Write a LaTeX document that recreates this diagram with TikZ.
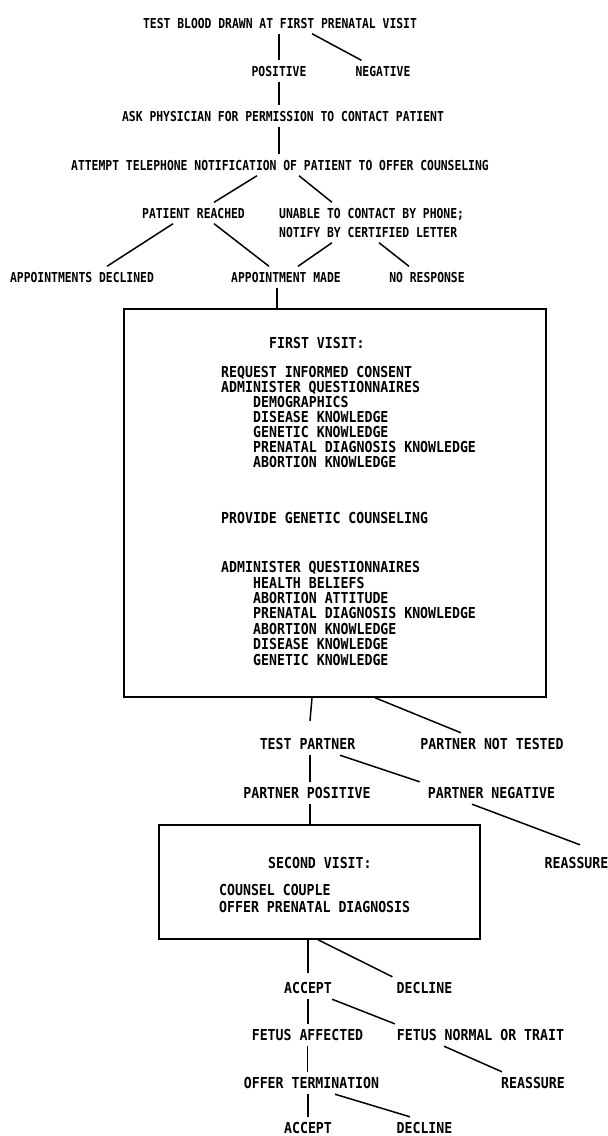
\documentclass[tikz,border=0pt]{standalone}
\usepackage{fontspec}
\usetikzlibrary{calc}
\newfontfamily\monofamA[FakeStretch=0.83]{DejaVu Sans Mono}
\newfontfamily\monofamB[FakeStretch=0.875]{DejaVu Sans Mono}
\newcommand{\ftopx}{\monofamA\bfseries\fontsize{13.7}{16}\selectfont}
\newcommand{\flowx}{\monofamB\bfseries\fontsize{15.1}{17}\selectfont}
\tikzset{
  toplbl/.style={font=\ftopx, inner xsep=0pt, inner ysep=5.5pt, text height=10pt, text depth=0pt},
  lowlbl/.style={font=\flowx, inner xsep=0pt, inner ysep=5.5pt, text height=11pt, text depth=0pt},
  intxt/.style={font=\flowx, inner sep=0pt, anchor=west, text height=11pt, text depth=0pt},
  link/.style={line width=1.5pt},
  boxst/.style={draw, line width=1.5pt, inner sep=0pt}
}
\begin{document}
\begin{tikzpicture}[x=1pt,y=-1pt]
\useasboundingbox (0,0) rectangle (608,1136);
% top part
\node[toplbl] (t1) at (280,23) {TEST BLOOD DRAWN AT FIRST PRENATAL VISIT};
\node[toplbl] (pos) at (279,71) {POSITIVE};
\node[toplbl] (neg) at (383,71) {NEGATIVE};
\node[toplbl] (ask) at (283,116) {ASK PHYSICIAN FOR PERMISSION TO CONTACT PATIENT};
\node[toplbl] (att) at (280,165) {ATTEMPT TELEPHONE NOTIFICATION OF PATIENT TO OFFER COUNSELING};
\node[toplbl] (reach) at (193.5,213) {PATIENT REACHED};
\node[toplbl, anchor=west] (un1) at (279,213) {UNABLE TO CONTACT BY PHONE;};
\node[toplbl, anchor=west] (un2) at (279,232) {NOTIFY BY CERTIFIED LETTER};
\node[toplbl] (decl) at (82,277) {APPOINTMENTS DECLINED};
\node[toplbl] (made) at (286,277) {APPOINTMENT MADE};
\node[toplbl] (nores) at (427,277) {NO RESPONSE};
% box 1
\node[boxst, minimum width=422pt, minimum height=388pt] (box1) at (335,503) {};
\node[intxt] (fv) at (269,343) {FIRST VISIT:};
\node[intxt] (b1) at (221,372) {REQUEST INFORMED CONSENT};
\node[intxt] (b2) at (221,387) {ADMINISTER QUESTIONNAIRES};
\node[intxt] (b3) at (253,402) {DEMOGRAPHICS};
\node[intxt] (b4) at (253,417) {DISEASE KNOWLEDGE};
\node[intxt] (b5) at (253,432) {GENETIC KNOWLEDGE};
\node[intxt] (b6) at (253,447) {PRENATAL DIAGNOSIS KNOWLEDGE};
\node[intxt] (b7) at (253,462) {ABORTION KNOWLEDGE};
\node[intxt] (b8) at (221,518) {PROVIDE GENETIC COUNSELING};
\node[intxt] (b9) at (221,567) {ADMINISTER QUESTIONNAIRES};
\node[intxt] (b10) at (253,583) {HEALTH BELIEFS};
\node[intxt] (b11) at (253,598) {ABORTION ATTITUDE};
\node[intxt] (b12) at (253,613) {PRENATAL DIAGNOSIS KNOWLEDGE};
\node[intxt] (b13) at (253,629) {ABORTION KNOWLEDGE};
\node[intxt] (b14) at (253,644) {DISEASE KNOWLEDGE};
\node[intxt] (b15) at (253,660) {GENETIC KNOWLEDGE};
% lower part
\node[lowlbl] (tp) at (307.5,744) {TEST PARTNER};
\node[lowlbl] (pnt) at (492,744) {PARTNER NOT TESTED};
\node[lowlbl] (ppos) at (307,793) {PARTNER POSITIVE};
\node[lowlbl] (pneg) at (491.5,793) {PARTNER NEGATIVE};
\node[lowlbl] (reas1) at (576.5,863) {REASSURE};
\node[boxst, minimum width=321pt, minimum height=114pt] (box2) at (319.5,882) {};
\node[intxt] (sv) at (268,863) {SECOND VISIT:};
\node[intxt] (c1) at (219,890) {COUNSEL COUPLE};
\node[intxt] (c2) at (219,907) {OFFER PRENATAL DIAGNOSIS};
\node[lowlbl] (acc1) at (308,988) {ACCEPT};
\node[lowlbl] (dec1) at (424.5,988) {DECLINE};
\node[lowlbl] (fa) at (307.5,1035) {FETUS AFFECTED};
\node[lowlbl] (fn) at (480.5,1035) {FETUS NORMAL OR TRAIT};
\node[lowlbl] (ot) at (311.5,1083) {OFFER TERMINATION};
\node[lowlbl] (reas2) at (533,1083) {REASSURE};
\node[lowlbl] (acc2) at (308,1128) {ACCEPT};
\node[lowlbl] (dec2) at (424.5,1128) {DECLINE};
% connectors
\draw[link] (pos.north) -- (pos.north |- t1.south);
\draw[link] ([xshift=32pt]t1.south) -- ([xshift=6pt]neg.north west);
\draw[link] (pos.south) -- (pos.south |- ask.north);
\draw[link] (ask.south -| pos) -- (att.north -| pos);
\draw[link] ([xshift=-23pt]att.south) -- ([xshift=20.5pt]reach.north);
\draw[link] ([xshift=19pt]att.south) -- ([xshift=53pt]un1.north west);
\draw[link] ([xshift=-20.5pt]reach.south) -- ([xshift=25pt]decl.north);
\draw[link] ([xshift=20.5pt]reach.south) -- ([xshift=-17pt]made.north);
\draw[link] ([xshift=53pt]un2.south west) -- ([xshift=12pt]made.north);
\draw[link] ([xshift=100pt]un2.south west) -- ([xshift=-18pt]nores.north);
\draw[link] ([xshift=-9pt]made.south) -- ([xshift=-9pt]made.south |- box1.north);
\draw[link] ([xshift=-23pt]box1.south) -- ($(tp.north)+(2.5,-12)$);
\draw[link] ([xshift=40pt]box1.south) -- ([xshift=-31pt]pnt.north);
\draw[link] ([xshift=2.5pt]tp.south) -- ([xshift=3pt]ppos.north);
\draw[link] ([xshift=32.5pt]tp.south) -- ([xshift=-8pt]pneg.north west);
\draw[link] ([xshift=3pt]ppos.south) -- ([xshift=3pt]ppos.south |- box2.north);
\draw[link] ([xshift=-19.5pt]pneg.south) -- ($(reas1.north)+(3.5,-7)$);
\draw[link, shorten >=4pt] (box2.south -| acc1) -- (acc1.north);
\draw[link] ([xshift=-1.5pt]box2.south) -- ([xshift=-4pt]dec1.north west);
\draw[link] (acc1.south) -- (fa.north -| acc1);
\draw[link] (acc1.south east) -- ([xshift=-2pt]fn.north west);
\draw[link] (fa.south) -- (ot.north -| fa);
\draw[link] ([xshift=-36.5pt]fn.south) -- ([xshift=1pt]reas2.north west);
\draw[link] (ot.south -| acc2) -- (acc2.north);
\draw[link] ([xshift=23.5pt]ot.south) -- ([xshift=-14.5pt]dec2.north);
\end{tikzpicture}
\end{document}
